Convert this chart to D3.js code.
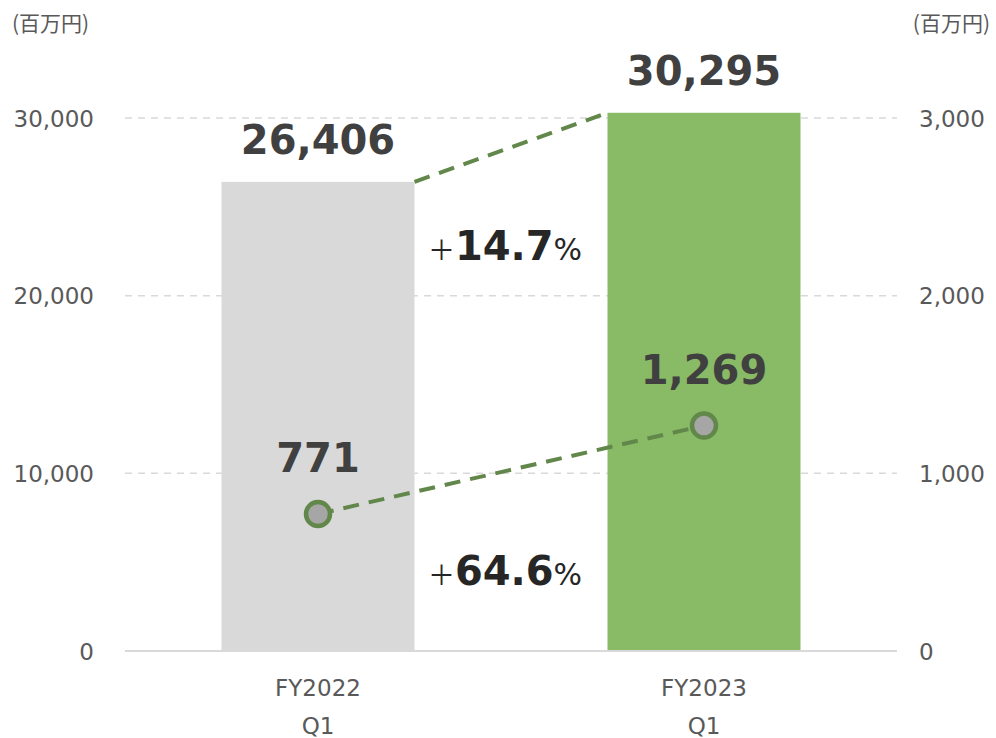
<!DOCTYPE html>
<html>
<head>
<meta charset="utf-8">
<script src="https://cdn.jsdelivr.net/npm/d3@7"></script>
<style>
  body { margin: 0; background: #fff; }
  text { font-family: "DejaVu Sans", "Noto Sans CJK JP", sans-serif; }
</style>
</head>
<body>
<script>
// dati
var periods = ["FY2022\nQ1", "FY2023\nQ1"];
var sales = [26406, 30295];
var profit = [771, 1269];
var growth = ["14.7", "64.6"];
var leftTicks = [0, 10000, 20000, 30000];
var rightTicks = [0, 1000, 2000, 3000];

var width = 996, height = 738;
var svg = d3.select("body").append("svg")
  .attr("width", width)
  .attr("height", height);

// scale
var x = d3.scaleBand().domain(periods).range([125, 897]).paddingInner(0.5).paddingOuter(0.25);
var yL = d3.scaleLinear().domain([0, 30000]).range([651, 118]);
var yR = d3.scaleLinear().domain([0, 3000]).range([651, 118]);
var fmt = d3.format(",");

// griglia tratteggiata
svg.selectAll(".grid")
  .data(leftTicks.filter(d => d > 0))
  .enter().append("line")
  .attr("x1", 125).attr("x2", 897)
  .attr("y1", d => yL(d)).attr("y2", d => yL(d))
  .style("stroke", "#d9d9d9")
  .style("stroke-width", 1.5)
  .style("stroke-dasharray", "7,6");

// barre
var barColors = ["#d9d9d9", "#89bb66"];
svg.selectAll(".bar")
  .data(sales)
  .enter().append("rect")
  .attr("x", (d, i) => x(periods[i]))
  .attr("y", d => yL(d))
  .attr("width", x.bandwidth())
  .attr("height", d => yL(0) - yL(d))
  .style("fill", (d, i) => barColors[i]);

// linea di base
svg.append("line")
  .attr("x1", 125).attr("x2", 897)
  .attr("y1", yL(0)).attr("y2", yL(0))
  .style("stroke", "#d9d9d9").style("stroke-width", 2);

// assi sinistro e destro
var axisL = d3.axisLeft(yL).tickValues(leftTicks).tickFormat(fmt).tickSize(0).tickPadding(0);
var gL = svg.append("g").attr("transform", "translate(94,0)").call(axisL);
var axisR = d3.axisRight(yR).tickValues(rightTicks).tickFormat(fmt).tickSize(0).tickPadding(0);
var gR = svg.append("g").attr("transform", "translate(919,0)").call(axisR);
[gL, gR].forEach(g => {
  g.select(".domain").remove();
  g.selectAll("text")
    .attr("dy", "0.35em")
    .style("font-family", "'DejaVu Sans', sans-serif")
    .style("font-size", "23px")
    .style("fill", "#595959");
});

// unità
svg.append("text").attr("x", 12).attr("y", 31).text("(百万円)")
  .style("font-size", "21px").style("fill", "#595959")
  .style("font-family", "'Noto Sans CJK JP', sans-serif");
svg.append("text").attr("x", 990).attr("y", 31).attr("text-anchor", "end").text("(百万円)")
  .style("font-size", "21px").style("fill", "#595959")
  .style("font-family", "'Noto Sans CJK JP', sans-serif");

// etichette categoria
periods.forEach(function (p) {
  var cx = x(p) + x.bandwidth() / 2;
  p.split("\n").forEach(function (line, j) {
    svg.append("text")
      .attr("x", cx).attr("y", 696 + j * 38)
      .attr("text-anchor", "middle")
      .text(line)
      .style("font-size", "23px").style("fill", "#595959");
  });
});

var green = "#62874a";

// connettore tra le barre
svg.append("line")
  .attr("x1", x(periods[0]) + x.bandwidth())
  .attr("y1", yL(sales[0]))
  .attr("x2", x(periods[1]))
  .attr("y2", yL(sales[1]))
  .style("stroke", green).style("stroke-width", 4)
  .style("stroke-dasharray", "16,10");

// etichette vendite
svg.selectAll(".salesLabel")
  .data(sales)
  .enter().append("text")
  .attr("x", (d, i) => x(periods[i]) + x.bandwidth() / 2)
  .attr("y", d => yL(d) - 28)
  .attr("text-anchor", "middle")
  .text(d => fmt(d))
  .style("font-size", "40px").style("font-weight", "bold").style("fill", "#404040");

// linea utile (asse destro)
var line = d3.line()
  .x((d, i) => x(periods[i]) + x.bandwidth() / 2)
  .y(d => yR(d));
svg.append("path")
  .datum(profit)
  .attr("d", line)
  .style("fill", "none")
  .style("stroke", green).style("stroke-width", 4)
  .style("stroke-dasharray", "16,10");

svg.selectAll(".dot")
  .data(profit)
  .enter().append("circle")
  .attr("cx", (d, i) => x(periods[i]) + x.bandwidth() / 2)
  .attr("cy", d => yR(d))
  .attr("r", 12)
  .style("fill", "#a6a6a6")
  .style("stroke", green).style("stroke-width", 4.5);

svg.selectAll(".profitLabel")
  .data(profit)
  .enter().append("text")
  .attr("x", (d, i) => x(periods[i]) + x.bandwidth() / 2)
  .attr("y", d => yR(d) - 42)
  .attr("text-anchor", "middle")
  .text(d => fmt(d))
  .style("font-size", "40px").style("font-weight", "bold").style("fill", "#404040");

// percentuali di crescita
var growthY = [260, 585];
growth.forEach(function (g, i) {
  var t = svg.append("text")
    .attr("x", 505).attr("y", growthY[i])
    .attr("text-anchor", "middle")
    .style("fill", "#262626");
  t.append("tspan").text("＋").style("font-size", "27px")
    .style("font-family", "'Noto Sans CJK JP', sans-serif");
  t.append("tspan").text(g).style("font-size", "40px").style("font-weight", "bold");
  t.append("tspan").text("%").style("font-size", "30px");
});
</script>
</body>
</html>
